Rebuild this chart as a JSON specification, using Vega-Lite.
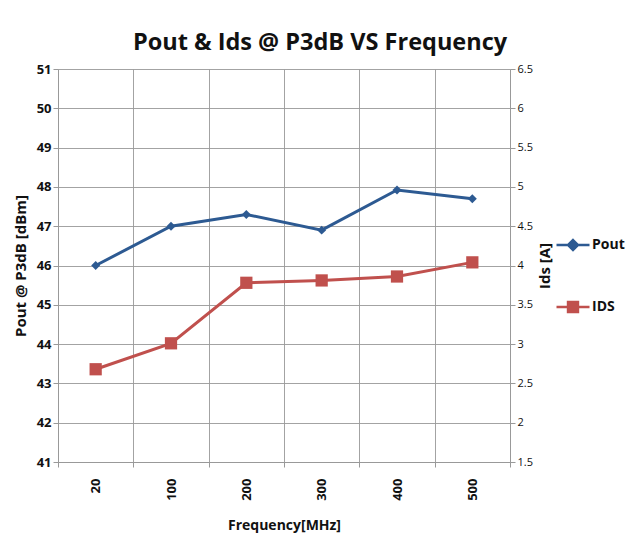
{
  "$schema": "https://vega.github.io/schema/vega-lite/v6.json",
  "width": 452,
  "height": 393,
  "padding": {"left": 13, "top": 30, "right": 5, "bottom": 5},
  "background": "white",
  "title": {"text": "Pout & Ids @ P3dB VS Frequency", "fontSize": 23.5, "font": "Open Sans", "fontWeight": "bold", "color": "#111", "dx": 36, "offset": 9},
  "config": {
    "view": {"stroke": null},
    "font": "Open Sans",
    "axis": {"gridColor": "#999", "gridOpacity": 0.9, "domainColor": "#999", "tickColor": "#999", "labelColor": "#111", "titleColor": "#111"}
  },
  "data": {"values": [
    {"freq": "20", "Pout": 46.0, "IDS": 2.68},
    {"freq": "100", "Pout": 47.0, "IDS": 3.01},
    {"freq": "200", "Pout": 47.3, "IDS": 3.78},
    {"freq": "300", "Pout": 46.9, "IDS": 3.81},
    {"freq": "400", "Pout": 47.92, "IDS": 3.86},
    {"freq": "500", "Pout": 47.7, "IDS": 4.04}
  ]},
  "encoding": {
    "x": {"field": "freq", "type": "ordinal", "sort": null,
      "scale": {"paddingInner": 0, "paddingOuter": 0},
      "axis": {"title": "Frequency[MHz]", "titleFontSize": 14, "titleFontWeight": "bold", "titlePadding": 18, "labelAngle": -90, "labelFontSize": 13, "labelFontWeight": "bold", "labelPadding": 11, "tickBand": "extent", "grid": true, "tickSize": 5, "labelBaseline": "middle"}}
  },
  "layer": [
    {
      "mark": {"type": "line", "strokeWidth": 3, "point": {"shape": "diamond", "size": 80, "filled": true}},
      "encoding": {
        "y": {"field": "Pout", "type": "quantitative", "scale": {"domain": [41, 51], "nice": false, "zero": false},
          "axis": {"title": "Pout @ P3dB [dBm]", "titleFontSize": 15, "titleFontWeight": "bold", "titlePadding": 8, "values": [41,42,43,44,45,46,47,48,49,50,51], "labelFontSize": 13, "labelFontWeight": "bold", "tickSize": 5, "grid": true}},
        "color": {"datum": "Pout", "type": "nominal", "scale": {"domain": ["Pout", "IDS"], "range": ["#2D5A92", "#C0504D"]},
          "legend": {"title": null, "orient": "none", "legendX": 497, "legendY": 158, "labelFontSize": 14, "labelFontWeight": "bold", "labelColor": "#111", "rowPadding": 34, "symbolSize": 1089, "symbolStrokeWidth": 2.5, "labelOffset": 1,
            "encode": {"symbols": {"update": {
              "shape": {"signal": "datum.value === 'Pout' ? 'M-1,0H1M0,-0.3L0.3,0L0,0.3L-0.3,0Z' : 'M-1,0H1M-0.3,-0.3H0.3V0.3H-0.3Z'"},
              "fill": {"signal": "datum.value === 'Pout' ? '#2D5A92' : '#C0504D'"},
              "stroke": {"signal": "datum.value === 'Pout' ? '#2D5A92' : '#C0504D'"},
              "strokeWidth": {"value": 2.5}
            }}}}}
      }
    },
    {
      "mark": {"type": "line", "strokeWidth": 3, "point": {"shape": "square", "size": 150, "filled": true}},
      "encoding": {
        "y": {"field": "IDS", "type": "quantitative", "scale": {"domain": [1.5, 6.5], "nice": false, "zero": false},
          "axis": {"orient": "right", "title": "Ids [A]", "titleAngle": 270, "titleFontSize": 15, "titleFontWeight": "bold", "titlePadding": 20, "values": [1.5,2,2.5,3,3.5,4,4.5,5,5.5,6,6.5], "format": "~g", "labelFontSize": 11, "labelFontWeight": "normal", "tickSize": 5, "grid": false}},
        "color": {"datum": "IDS", "type": "nominal"}
      }
    }
  ],
  "resolve": {"scale": {"y": "independent"}}
}
